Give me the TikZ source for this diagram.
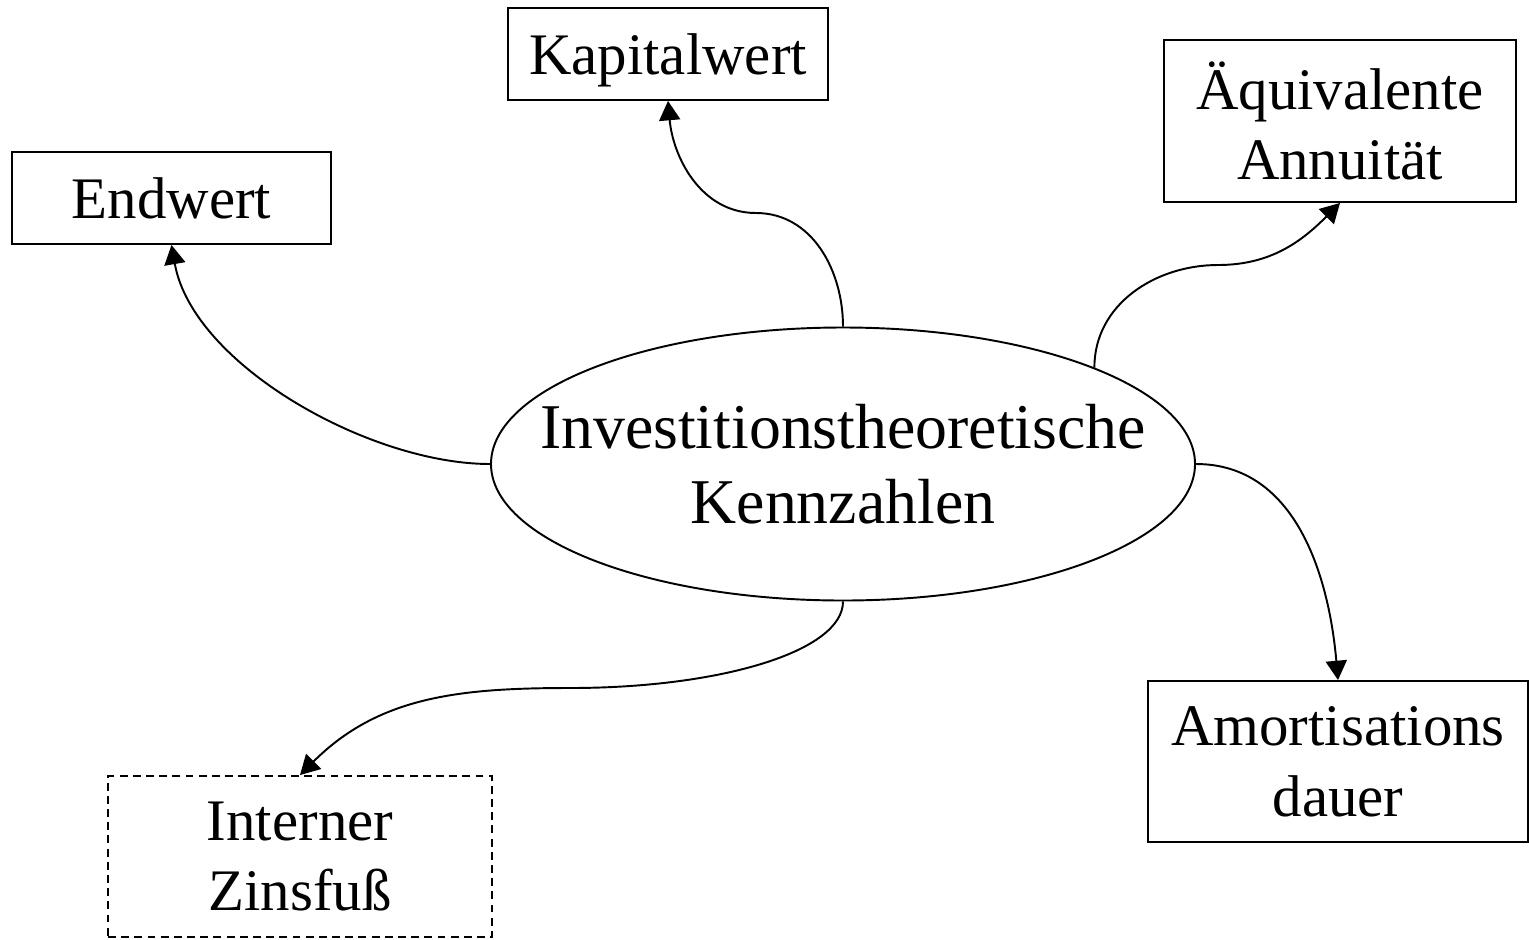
\documentclass[tikz,border=0pt]{standalone}
\usepackage{fontspec}
\setmainfont{Liberation Serif}
\usetikzlibrary{arrows.meta,shapes.geometric}

\begin{document}
\begin{tikzpicture}[
  x=0.2mm, y=-0.2mm,
  box/.style={draw, line width=1.1pt, align=center, inner sep=0pt, text depth=0pt,
              font=\fontsize{33.5}{40}\selectfont},
  ghost/.style={box, dash pattern=on 4.5pt off 3pt},
  hub/.style={draw, ellipse, line width=1.1pt, align=center,
              inner xsep=-1.2cm, inner ysep=0pt,
              minimum width=14.08cm, minimum height=5.46cm,
              font=\fontsize{36.3}{42.5}\selectfont},
  link/.style={line width=1.1pt, -{Triangle[length=11pt, width=12pt]}}
]
  \useasboundingbox (0,0) rectangle (1529,939);

  % centre and the five measures
  \node[hub] (hub) at (843,464) {Investitionstheoretische\\Kennzahlen};
  \node[box, minimum width=6.4cm, minimum height=1.84cm] (kapw) at (668,54) {Kapitalwert};
  \node[box, minimum width=6.38cm, minimum height=1.84cm] (endw) at (171.5,198) {Endwert};
  \node[box, minimum width=7.04cm, minimum height=3.24cm] (aequ) at (1340,121) {Äquivalente\\Annuität};
  \node[box, minimum width=7.6cm, minimum height=3.22cm] (amort) at (1338,761.5) {Amortisations\\dauer};
  \node[ghost, minimum width=7.68cm, minimum height=3.22cm] (izf) at (300,856.5) {Interner\\Zinsfuß};

  % bends of the s-shaped links
  \coordinate (kapw-bend) at (756,213);
  \coordinate (aequ-bend) at (1218,265);
  \coordinate (izf-bend) at (570,688);

  \draw[link] (hub.west) to[out=180, in=-80, looseness=0.8] (endw.south);
  \draw[link] (hub.north) to[out=90, in=0] (kapw-bend) to[out=180, in=-85] (kapw.south);
  \draw[link] (hub.21) to[out=90, in=180] (aequ-bend) to[out=0, in=-135] (aequ.south);
  \draw[link] (hub.east) to[out=0, in=95] (amort.north);
  \draw[link] (hub.south) .. controls +(0,50) and +(150,0) .. (izf-bend)
    to[out=180, in=45] (izf.north);
\end{tikzpicture}
\end{document}
